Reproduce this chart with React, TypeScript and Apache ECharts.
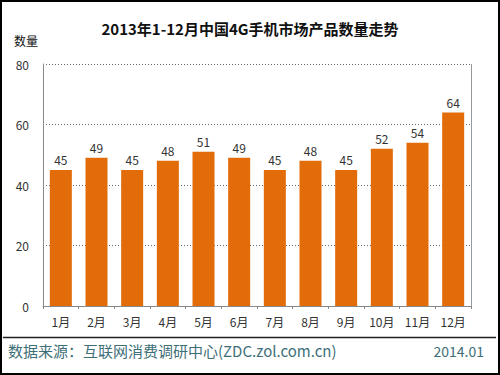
import React, { useEffect, useRef } from "react";
import * as echarts from "echarts";

const months = ["1月", "2月", "3月", "4月", "5月", "6月", "7月", "8月", "9月", "10月", "11月", "12月"];
const counts = [45, 49, 45, 48, 51, 49, 45, 48, 45, 52, 54, 64];
const titleText = "2013年1-12月中国4G手机市场产品数量走势";
const yName = "数量";
const sourceText = "数据来源：互联网消费调研中心(ZDC.zol.com.cn)";
const dateText = "2014.01";

export default function App() {
  const ref = useRef<HTMLDivElement>(null);
  useEffect(() => {
    if (!ref.current) return;
    const chart = echarts.init(ref.current, null, { renderer: "svg" });
    const font = "'Noto Sans CJK SC', 'DejaVu Sans', sans-serif";
    chart.setOption({
      animation: false,
      backgroundColor: "#ffffff",
      textStyle: { fontFamily: font },
      title: {
        text: titleText,
        left: "center",
        top: 16,
        textStyle: { fontSize: 15, fontWeight: "bold", color: "#111", fontFamily: font },
      },
      grid: { left: 43, right: 29, top: 64, bottom: 69, containLabel: false },
      xAxis: {
        type: "category",
        data: months,
        axisLine: { show: true, lineStyle: { color: "#888", width: 1 } },
        axisTick: { show: true, length: 3, inside: false, lineStyle: { color: "#888" } },
        axisLabel: { color: "#333", fontSize: 12, margin: 9, interval: 0 },
      },
      yAxis: {
        type: "value",
        min: 0,
        max: 80,
        interval: 20,
        axisLine: { show: true, lineStyle: { color: "#888" } },
        axisTick: { show: false },
        axisLabel: { color: "#333", fontSize: 12, margin: 14 },
        splitLine: { show: true, lineStyle: { color: "#666", type: [1, 2], width: 1 } },
      },
      graphic: [
        {
          type: "line",
          shape: { x1: 471.5, y1: 64, x2: 471.5, y2: 306 },
          style: { stroke: "#999", lineWidth: 1 },
        },
        {
          type: "text",
          left: 14,
          top: 34,
          style: { text: yName, fontSize: 12, fill: "#111", fontFamily: font },
        },
        {
          type: "line",
          shape: { x1: 3, y1: 337.5, x2: 496, y2: 337.5 },
          style: { stroke: "#222", lineWidth: 1.5 },
        },
        {
          type: "text",
          left: 8,
          top: 343,
          style: { text: sourceText, fontSize: 15, fill: "#3e6f78", fontFamily: font },
        },
        {
          type: "text",
          right: 16,
          top: 344,
          style: { text: dateText, fontSize: 14, fill: "#3e6f78", fontFamily: font },
        },
        {
          type: "rect",
          shape: { x: 1, y: 1, width: 498, height: 373 },
          style: { fill: "none", stroke: "#000", lineWidth: 2 },
        },
      ],
      series: [
        {
          type: "bar",
          data: counts,
          barWidth: 22,
          itemStyle: { color: "#e36c0a" },
          label: { show: true, position: "top", color: "#333", fontSize: 12, distance: 4 },
        },
      ],
    });
    return () => chart.dispose();
  }, []);
  return (
    <div
      ref={ref}
      style={{ position: "fixed", left: 0, top: 0, width: 500, height: 375 }}
    />
  );
}
